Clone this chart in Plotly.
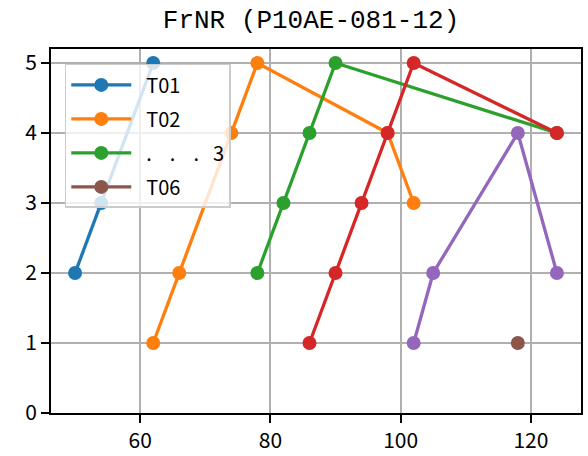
import plotly.graph_objects as go

title = "FrNR (P10AE-081-12)"

names = ["T01", "T02", ".\u2002\u2009\u2009.\u2002\u2009\u2009.\u2002\u20093", "T04", "T05", "T06"]
show_legend = [True, True, True, False, False, True]
colors = ["#1f77b4", "#ff7f0e", "#2ca02c", "#d62728", "#9467bd", "#8c564b"]

xs = [
    [50, 54, 62],
    [62, 66, 74, 78, 98, 102],
    [78, 82, 86, 90, 124],
    [86, 90, 94, 98, 102, 124],
    [102, 105, 118, 124],
    [118],
]
ys = [
    [2, 3, 5],
    [1, 2, 4, 5, 4, 3],
    [2, 3, 4, 5, 4],
    [1, 2, 3, 4, 5, 4],
    [1, 2, 4, 2],
    [1],
]

x_ticks = [60, 80, 100, 120]
y_ticks = [0, 1, 2, 3, 4, 5]

FONT = "Noto Sans CJK JP"
TFONT = "Liberation Mono"

fig = go.Figure()
for i in range(len(names)):
    fig.add_trace(go.Scatter(
        x=xs[i], y=ys[i], name="\u2002" + names[i], mode="lines+markers",
        line=dict(color=colors[i], width=3.3),
        marker=dict(color=colors[i], size=14),
        showlegend=show_legend[i], legendgroup=f"g{i}",
    ))

axis_common = dict(
    showline=True, mirror=True, linecolor="black", linewidth=1.8,
    ticks="outside", ticklen=8, tickcolor="black", tickwidth=1.8,
    showgrid=True, gridcolor="#b0b0b0", gridwidth=1.8, zeroline=False,
    automargin=False,
    tickfont=dict(family=FONT, size=21, color="black"),
)

fig.update_layout(
    width=588, height=456,
    margin=dict(l=51, r=7, t=49, b=43),
    paper_bgcolor="white", plot_bgcolor="white",
    title=dict(text=title, x=0.4906, xref="paper", xanchor="center",
               y=1 - 19 / 456, yref="container", yanchor="middle",
               font=dict(family=TFONT, size=26, color="black")),
    xaxis=dict(range=[46.3, 127.7], tickvals=x_ticks, **axis_common),
    yaxis=dict(range=[0, 5.2], tickvals=y_ticks, **axis_common),
    legend=dict(x=0.026, y=0.959, xanchor="left", yanchor="top",
                bgcolor="rgba(255,255,255,0.8)", bordercolor="#cccccc", borderwidth=1.5,
                font=dict(family=FONT, size=20, color="black"),
                itemwidth=60, tracegroupgap=5),
)

fig.write_html("out.html", config={"displayModeBar": False},
               post_script="document.body.style.margin='0';document.body.style.overflow='hidden';")
